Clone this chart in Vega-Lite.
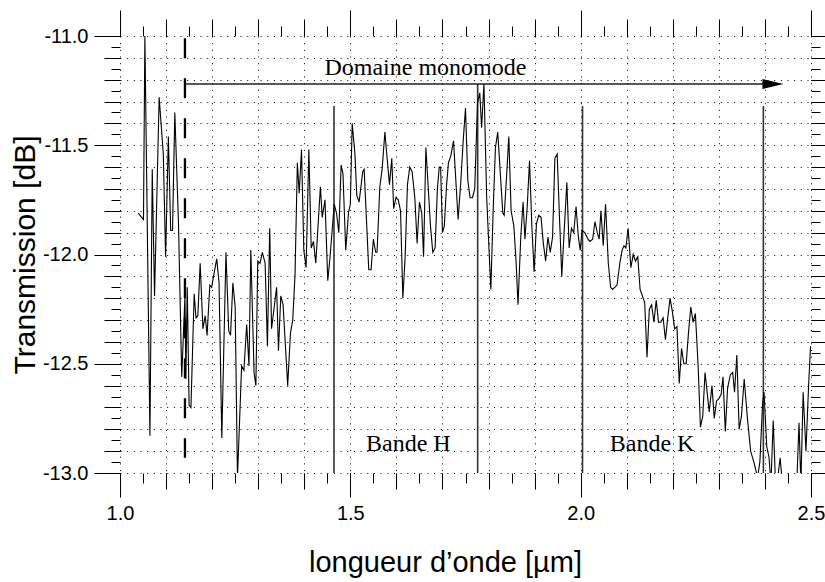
{
  "$schema": "https://vega.github.io/schema/vega-lite/v6.json",
  "width": 691,
  "height": 437,
  "autosize": {"type": "none"},
  "padding": {"left": 120, "top": 36, "right": 14, "bottom": 109},
  "background": "white",
  "config": {
    "view": {"stroke": null},
    "font": "Liberation Sans",
    "axis": {
      "domain": false,
      "tickColor": "#000",
      "tickWidth": 1,
      "labelFont": "Liberation Sans",
      "labelFontSize": 20,
      "labelColor": "#000",
      "labelFlush": false,
      "labelOverlap": false,
      "titleFont": "Liberation Sans",
      "titleFontWeight": "normal",
      "titleColor": "#000",
      "gridColor": "#000",
      "gridDash": [1, 5.67],
      "gridWidth": 1,
      "gridOpacity": 1
    }
  },
  "datasets": {
    "curve": [
      {"x":1.040,"y":-11.81},{"x":1.043,"y":-11.82},{"x":1.051,"y":-11.84},{"x":1.054,"y":-11.00},{"x":1.065,"y":-12.83},
      {"x":1.070,"y":-11.61},{"x":1.075,"y":-12.19},{"x":1.085,"y":-11.28},{"x":1.094,"y":-11.54},{"x":1.099,"y":-12.01},
      {"x":1.105,"y":-11.46},{"x":1.110,"y":-11.89},{"x":1.114,"y":-11.89},{"x":1.119,"y":-11.35},{"x":1.127,"y":-11.86},
      {"x":1.134,"y":-12.56},{"x":1.141,"y":-12.19},{"x":1.143,"y":-12.57},{"x":1.146,"y":-12.15},{"x":1.150,"y":-12.69},
      {"x":1.154,"y":-12.70},{"x":1.161,"y":-12.18},{"x":1.165,"y":-12.29},{"x":1.169,"y":-12.28},{"x":1.174,"y":-12.04},
      {"x":1.180,"y":-12.34},{"x":1.185,"y":-12.28},{"x":1.189,"y":-12.37},{"x":1.195,"y":-12.14},{"x":1.199,"y":-12.15},
      {"x":1.203,"y":-12.10},{"x":1.210,"y":-12.02},{"x":1.215,"y":-12.13},{"x":1.221,"y":-12.84},{"x":1.230,"y":-11.99},
      {"x":1.236,"y":-12.35},{"x":1.240,"y":-12.37},{"x":1.245,"y":-12.13},{"x":1.250,"y":-12.24},{"x":1.255,"y":-13.02},
      {"x":1.264,"y":-12.51},{"x":1.269,"y":-12.53},{"x":1.275,"y":-12.32},{"x":1.280,"y":-12.51},{"x":1.284,"y":-11.98},
      {"x":1.291,"y":-12.54},{"x":1.295,"y":-12.60},{"x":1.299,"y":-12.03},{"x":1.304,"y":-12.04},{"x":1.309,"y":-11.99},
      {"x":1.315,"y":-12.04},{"x":1.320,"y":-12.42},{"x":1.325,"y":-11.88},{"x":1.329,"y":-12.34},{"x":1.340,"y":-12.15},
      {"x":1.344,"y":-12.44},{"x":1.349,"y":-12.19},{"x":1.354,"y":-12.23},{"x":1.364,"y":-12.60},{"x":1.370,"y":-12.36},
      {"x":1.375,"y":-12.30},{"x":1.380,"y":-12.09},{"x":1.385,"y":-11.58},{"x":1.389,"y":-11.72},{"x":1.394,"y":-11.52},
      {"x":1.399,"y":-11.98},{"x":1.404,"y":-12.06},{"x":1.410,"y":-11.52},{"x":1.415,"y":-11.97},{"x":1.420,"y":-11.94},
      {"x":1.425,"y":-12.04},{"x":1.435,"y":-11.69},{"x":1.439,"y":-11.83},{"x":1.445,"y":-11.75},{"x":1.451,"y":-12.12},
      {"x":1.456,"y":-12.01},{"x":1.465,"y":-11.77},{"x":1.470,"y":-11.81},{"x":1.475,"y":-11.90},{"x":1.480,"y":-11.59},
      {"x":1.484,"y":-11.63},{"x":1.490,"y":-11.98},{"x":1.496,"y":-11.81},{"x":1.500,"y":-11.77},{"x":1.504,"y":-11.40},
      {"x":1.510,"y":-11.54},{"x":1.514,"y":-11.73},{"x":1.519,"y":-11.76},{"x":1.527,"y":-11.62},{"x":1.530,"y":-11.61},
      {"x":1.540,"y":-12.07},{"x":1.545,"y":-12.07},{"x":1.550,"y":-11.93},{"x":1.555,"y":-11.99},{"x":1.558,"y":-11.99},
      {"x":1.564,"y":-11.69},{"x":1.569,"y":-11.61},{"x":1.575,"y":-11.44},{"x":1.579,"y":-11.54},{"x":1.585,"y":-11.68},
      {"x":1.590,"y":-11.56},{"x":1.594,"y":-11.79},{"x":1.599,"y":-11.74},{"x":1.604,"y":-11.75},{"x":1.609,"y":-11.80},
      {"x":1.614,"y":-12.20},{"x":1.619,"y":-12.01},{"x":1.624,"y":-11.68},{"x":1.629,"y":-11.60},{"x":1.634,"y":-11.62},
      {"x":1.640,"y":-11.74},{"x":1.645,"y":-11.95},{"x":1.650,"y":-11.76},{"x":1.655,"y":-11.81},{"x":1.659,"y":-12.01},
      {"x":1.664,"y":-11.51},{"x":1.669,"y":-11.69},{"x":1.674,"y":-11.87},{"x":1.679,"y":-11.99},{"x":1.684,"y":-11.97},
      {"x":1.689,"y":-11.70},{"x":1.693,"y":-11.60},{"x":1.696,"y":-11.60},{"x":1.700,"y":-11.90},{"x":1.704,"y":-11.87},
      {"x":1.709,"y":-11.68},{"x":1.713,"y":-11.58},{"x":1.718,"y":-11.55},{"x":1.724,"y":-11.48},{"x":1.729,"y":-11.66},
      {"x":1.734,"y":-11.84},{"x":1.740,"y":-11.66},{"x":1.745,"y":-11.48},{"x":1.750,"y":-11.33},{"x":1.755,"y":-11.66},
      {"x":1.760,"y":-11.74},{"x":1.765,"y":-11.74},{"x":1.770,"y":-11.70},{"x":1.776,"y":-11.31},{"x":1.781,"y":-11.26},
      {"x":1.785,"y":-11.42},{"x":1.790,"y":-11.22},{"x":1.796,"y":-11.74},{"x":1.805,"y":-12.16},{"x":1.810,"y":-11.80},
      {"x":1.815,"y":-11.51},{"x":1.820,"y":-11.44},{"x":1.825,"y":-11.61},{"x":1.831,"y":-11.81},{"x":1.834,"y":-11.82},
      {"x":1.839,"y":-11.65},{"x":1.844,"y":-11.46},{"x":1.849,"y":-11.80},{"x":1.855,"y":-11.87},{"x":1.860,"y":-12.04},
      {"x":1.864,"y":-12.23},{"x":1.870,"y":-11.92},{"x":1.875,"y":-11.76},{"x":1.879,"y":-11.93},{"x":1.884,"y":-11.78},
      {"x":1.889,"y":-11.57},{"x":1.894,"y":-11.87},{"x":1.899,"y":-12.08},{"x":1.904,"y":-11.86},{"x":1.909,"y":-11.82},
      {"x":1.914,"y":-11.83},{"x":1.919,"y":-11.95},{"x":1.924,"y":-12.03},{"x":1.929,"y":-11.92},{"x":1.934,"y":-11.99},
      {"x":1.939,"y":-11.92},{"x":1.944,"y":-11.56},{"x":1.949,"y":-11.54},{"x":1.954,"y":-11.83},{"x":1.959,"y":-12.10},
      {"x":1.964,"y":-11.90},{"x":1.970,"y":-11.67},{"x":1.975,"y":-11.97},{"x":1.980,"y":-11.88},{"x":1.985,"y":-11.90},
      {"x":1.990,"y":-11.78},{"x":1.995,"y":-11.92},{"x":1.999,"y":-11.98},{"x":2.003,"y":-11.89},{"x":2.009,"y":-11.90},
      {"x":2.016,"y":-11.93},{"x":2.020,"y":-11.94},{"x":2.026,"y":-11.93},{"x":2.031,"y":-11.85},{"x":2.036,"y":-11.90},
      {"x":2.040,"y":-11.93},{"x":2.044,"y":-11.80},{"x":2.049,"y":-11.96},{"x":2.054,"y":-11.77},{"x":2.060,"y":-12.04},
      {"x":2.065,"y":-12.15},{"x":2.069,"y":-12.16},{"x":2.074,"y":-12.15},{"x":2.079,"y":-12.14},{"x":2.085,"y":-12.04},
      {"x":2.090,"y":-11.98},{"x":2.094,"y":-11.96},{"x":2.098,"y":-11.97},{"x":2.103,"y":-11.88},{"x":2.109,"y":-12.06},
      {"x":2.114,"y":-12.00},{"x":2.119,"y":-12.03},{"x":2.124,"y":-12.01},{"x":2.129,"y":-12.16},{"x":2.134,"y":-12.19},
      {"x":2.139,"y":-12.22},{"x":2.144,"y":-12.47},{"x":2.149,"y":-12.25},{"x":2.154,"y":-12.23},{"x":2.159,"y":-12.31},
      {"x":2.164,"y":-12.21},{"x":2.169,"y":-12.31},{"x":2.174,"y":-12.31},{"x":2.179,"y":-12.29},{"x":2.184,"y":-12.39},
      {"x":2.189,"y":-12.29},{"x":2.194,"y":-12.20},{"x":2.199,"y":-12.26},{"x":2.204,"y":-12.34},{"x":2.209,"y":-12.33},
      {"x":2.214,"y":-12.59},{"x":2.219,"y":-12.43},{"x":2.224,"y":-12.50},{"x":2.229,"y":-12.50},{"x":2.234,"y":-12.36},
      {"x":2.239,"y":-12.24},{"x":2.244,"y":-12.31},{"x":2.249,"y":-12.27},{"x":2.255,"y":-12.51},{"x":2.260,"y":-12.79},
      {"x":2.265,"y":-12.74},{"x":2.270,"y":-12.54},{"x":2.275,"y":-12.64},{"x":2.279,"y":-12.72},{"x":2.285,"y":-12.60},
      {"x":2.290,"y":-12.75},{"x":2.295,"y":-12.67},{"x":2.300,"y":-12.66},{"x":2.305,"y":-12.64},{"x":2.309,"y":-12.56},
      {"x":2.314,"y":-12.81},{"x":2.319,"y":-12.61},{"x":2.325,"y":-12.55},{"x":2.330,"y":-12.54},{"x":2.334,"y":-12.63},
      {"x":2.339,"y":-12.46},{"x":2.344,"y":-12.80},{"x":2.349,"y":-12.74},{"x":2.355,"y":-12.57},{"x":2.362,"y":-12.75},
      {"x":2.369,"y":-12.90},{"x":2.376,"y":-12.95},{"x":2.384,"y":-13.02},{"x":2.389,"y":-12.95},{"x":2.395,"y":-12.68},
      {"x":2.398,"y":-12.63},{"x":2.404,"y":-12.88},{"x":2.409,"y":-12.93},{"x":2.413,"y":-13.05},{"x":2.418,"y":-12.76},
      {"x":2.423,"y":-13.05},{"x":2.428,"y":-13.02},{"x":2.433,"y":-12.93},{"x":2.438,"y":-13.05},{"x":2.443,"y":-13.05},
      {"x":2.449,"y":-13.05},{"x":2.454,"y":-13.05},{"x":2.461,"y":-13.02},{"x":2.469,"y":-13.05},{"x":2.474,"y":-12.77},
      {"x":2.478,"y":-13.05},{"x":2.483,"y":-12.63},{"x":2.489,"y":-12.90},{"x":2.495,"y":-12.59},{"x":2.499,"y":-12.42}
    ],
    "vlines": [
      {"x": 1.4645, "top": -11.32, "bottom": -13.0},
      {"x": 1.7764, "top": -11.22, "bottom": -13.0},
      {"x": 2.004, "top": -11.32, "bottom": -13.0},
      {"x": 2.3966, "top": -11.32, "bottom": -13.0}
    ],
    "dash": [{"x": 1.141, "top": -11.01, "bottom": -12.93}],
    "arrow": [{"x": 1.141, "x2": 2.40, "y": -11.22}],
    "head": [{"x": 2.4174, "y": -11.22}],
    "texts": [
      {"x": 1.663, "y": -11.18, "label": "Domaine monomode"},
      {"x": 1.626, "y": -12.90, "label": "Bande H"},
      {"x": 2.155, "y": -12.90, "label": "Bande K"}
    ]
  },
  "resolve": {"axis": {"x": "independent", "y": "independent"}},
  "layer": [
    {
      "data": {"name": "texts"},
      "mark": {"type": "point", "opacity": 0},
      "encoding": {
        "x": {"field": "x", "type": "quantitative", "scale": {"domain": [1, 2.5], "nice": false, "zero": false},
          "axis": {"orient": "bottom", "values": [1,1.1,1.2,1.3,1.4,1.5,1.6,1.7,1.8,1.9,2,2.1,2.2,2.3,2.4,2.5], "tickSize": 16, "labels": false, "grid": true, "title": null}},
        "y": {"field": "y", "type": "quantitative", "scale": {"domain": [-13, -11], "nice": false, "zero": false},
          "axis": {"orient": "left", "values": [-13,-12.9,-12.8,-12.7,-12.6,-12.5,-12.4,-12.3,-12.2,-12.1,-12,-11.9,-11.8,-11.7,-11.6,-11.5,-11.4,-11.3,-11.2,-11.1,-11], "tickSize": 16, "labels": false, "grid": true, "title": null}}
      }
    },
    {
      "data": {"name": "texts"},
      "mark": {"type": "point", "opacity": 0},
      "encoding": {
        "x": {"field": "x", "type": "quantitative", "scale": {"domain": [1, 2.5], "nice": false, "zero": false},
          "axis": {"orient": "bottom", "values": [1,1.05,1.1,1.15,1.2,1.25,1.3,1.35,1.4,1.45,1.5,1.55,1.6,1.65,1.7,1.75,1.8,1.85,1.9,1.95,2,2.05,2.1,2.15,2.2,2.25,2.3,2.35,2.4,2.45,2.5], "tickSize": 10, "labels": false, "grid": false, "title": null}},
        "y": {"field": "y", "type": "quantitative", "scale": {"domain": [-13, -11], "nice": false, "zero": false},
          "axis": {"orient": "left", "values": [-13,-12.95,-12.9,-12.85,-12.8,-12.75,-12.7,-12.65,-12.6,-12.55,-12.5,-12.45,-12.4,-12.35,-12.3,-12.25,-12.2,-12.15,-12.1,-12.05,-12,-11.95,-11.9,-11.85,-11.8,-11.75,-11.7,-11.65,-11.6,-11.55,-11.5,-11.45,-11.4,-11.35,-11.3,-11.25,-11.2,-11.15,-11.1,-11.05,-11], "tickSize": 9, "labels": false, "grid": false, "title": null}}
      }
    },
    {
      "data": {"name": "texts"},
      "mark": {"type": "point", "opacity": 0},
      "encoding": {
        "x": {"field": "x", "type": "quantitative", "scale": {"domain": [1, 2.5], "nice": false, "zero": false},
          "axis": {"orient": "top", "values": [1, 1.5, 2, 2.5], "tickSize": 26, "labels": false, "grid": false, "title": null}},
        "y": {"field": "y", "type": "quantitative", "scale": {"domain": [-13, -11], "nice": false, "zero": false},
          "axis": {"orient": "right", "values": [-13, -12.5, -12, -11.5, -11], "tickSize": 26, "labels": false, "grid": false, "title": null}}
      }
    },
    {
      "data": {"name": "texts"},
      "mark": {"type": "point", "opacity": 0},
      "encoding": {
        "x": {"field": "x", "type": "quantitative", "scale": {"domain": [1, 2.5], "nice": false, "zero": false},
          "axis": {"orient": "top", "values": [1,1.1,1.2,1.3,1.4,1.5,1.6,1.7,1.8,1.9,2,2.1,2.2,2.3,2.4,2.5], "tickSize": 17, "labels": false, "grid": false, "title": null}},
        "y": {"field": "y", "type": "quantitative", "scale": {"domain": [-13, -11], "nice": false, "zero": false},
          "axis": {"orient": "right", "values": [-13,-12.9,-12.8,-12.7,-12.6,-12.5,-12.4,-12.3,-12.2,-12.1,-12,-11.9,-11.8,-11.7,-11.6,-11.5,-11.4,-11.3,-11.2,-11.1,-11], "tickSize": 16, "labels": false, "grid": false, "title": null}}
      }
    },
    {
      "data": {"name": "texts"},
      "mark": {"type": "point", "opacity": 0},
      "encoding": {
        "x": {"field": "x", "type": "quantitative", "scale": {"domain": [1, 2.5], "nice": false, "zero": false},
          "axis": {"orient": "top", "values": [1,1.05,1.1,1.15,1.2,1.25,1.3,1.35,1.4,1.45,1.5,1.55,1.6,1.65,1.7,1.75,1.8,1.85,1.9,1.95,2,2.05,2.1,2.15,2.2,2.25,2.3,2.35,2.4,2.45,2.5], "tickSize": 10, "labels": false, "grid": false, "title": null}},
        "y": {"field": "y", "type": "quantitative", "scale": {"domain": [-13, -11], "nice": false, "zero": false},
          "axis": {"orient": "right", "values": [-13,-12.95,-12.9,-12.85,-12.8,-12.75,-12.7,-12.65,-12.6,-12.55,-12.5,-12.45,-12.4,-12.35,-12.3,-12.25,-12.2,-12.15,-12.1,-12.05,-12,-11.95,-11.9,-11.85,-11.8,-11.75,-11.7,-11.65,-11.6,-11.55,-11.5,-11.45,-11.4,-11.35,-11.3,-11.25,-11.2,-11.15,-11.1,-11.05,-11], "tickSize": 9, "labels": false, "grid": false, "title": null}}
      }
    },
    {
      "data": {"name": "vlines"},
      "mark": {"type": "rule", "color": "#333", "strokeWidth": 1.6},
      "encoding": {
        "x": {"field": "x", "type": "quantitative", "axis": null},
        "y": {"field": "top", "type": "quantitative", "axis": null},
        "y2": {"field": "bottom"}
      }
    },
    {
      "data": {"name": "dash"},
      "mark": {"type": "rule", "color": "#000", "strokeWidth": 2.3, "strokeDash": [20, 20]},
      "encoding": {
        "x": {"field": "x", "type": "quantitative", "axis": null},
        "y": {"field": "top", "type": "quantitative", "axis": null},
        "y2": {"field": "bottom"}
      }
    },
    {
      "data": {"name": "arrow"},
      "mark": {"type": "rule", "color": "#222", "strokeWidth": 1.6},
      "encoding": {
        "x": {"field": "x", "type": "quantitative", "axis": null},
        "x2": {"field": "x2"},
        "y": {"field": "y", "type": "quantitative", "axis": null}
      }
    },
    {
      "data": {"name": "head"},
      "mark": {"type": "point", "shape": "M-1,-0.476L1,0L-1,0.476Z", "size": 441, "filled": true, "color": "#000", "opacity": 1},
      "encoding": {
        "x": {"field": "x", "type": "quantitative", "axis": null},
        "y": {"field": "y", "type": "quantitative", "axis": null}
      }
    },
    {
      "data": {"name": "texts"},
      "mark": {"type": "text", "font": "Liberation Serif", "fontSize": 24, "align": "center", "baseline": "alphabetic", "color": "#000"},
      "encoding": {
        "x": {"field": "x", "type": "quantitative", "axis": null},
        "y": {"field": "y", "type": "quantitative", "axis": null},
        "text": {"field": "label"}
      }
    },
    {
      "data": {"name": "curve"},
      "mark": {"type": "line", "color": "#000", "strokeWidth": 1.1, "clip": true},
      "encoding": {
        "x": {"field": "x", "type": "quantitative", "scale": {"domain": [1, 2.5], "nice": false, "zero": false},
          "axis": {"orient": "bottom", "values": [1, 1.5, 2, 2.5], "tickSize": 24, "labelPadding": 6, "labelExpr": "format(datum.value, '.1f')", "grid": false, "title": "longueur d’onde [µm]", "titleFontSize": 29, "titlePadding": 25, "titleX": 325}},
        "y": {"field": "y", "type": "quantitative", "scale": {"domain": [-13, -11], "nice": false, "zero": false},
          "axis": {"orient": "left", "values": [-13, -12.5, -12, -11.5, -11], "tickSize": 26, "labelPadding": 6, "labelExpr": "replace(format(datum.value, '.1f'), '\u2212', '-')", "grid": false, "title": "Transmission [dB]", "titleFontSize": 30, "titlePadding": 2}}
      }
    }
  ]
}
